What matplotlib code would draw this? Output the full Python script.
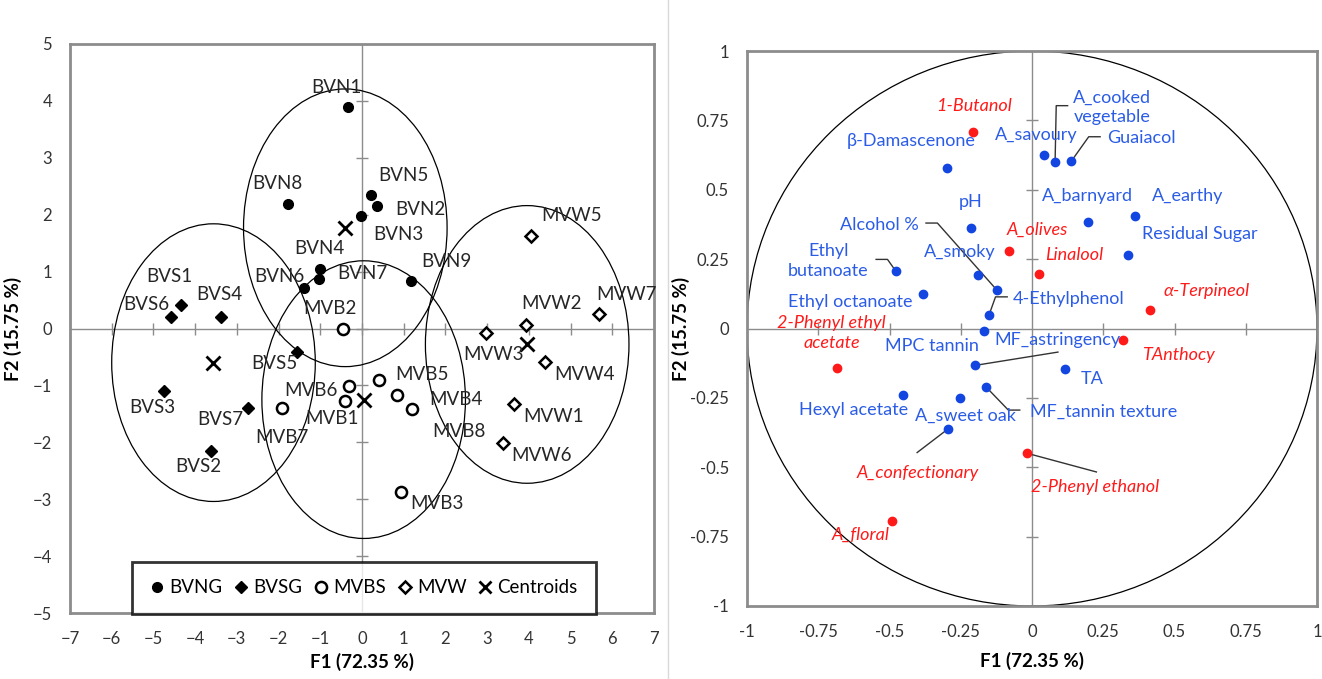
import matplotlib
matplotlib.use("Agg")
import matplotlib.pyplot as plt
from matplotlib.lines import Line2D
from matplotlib.patches import Ellipse, Circle

plt.rcParams['font.family'] = ['Lato', 'DejaVu Sans']

# ---- left panel: observations (F1, F2) ----
bvn_names = ["BVN1", "BVN2", "BVN3", "BVN4", "BVN5", "BVN6", "BVN7", "BVN8", "BVN9"]
bvn_x = [-0.33, 0.37, -0.02, -1.01, 0.22, -1.39, -1.04, -1.78, 1.18]
bvn_y = [3.89, 2.15, 1.97, 1.04, 2.35, 0.72, 0.87, 2.19, 0.83]

bvs_names = ["BVS1", "BVS2", "BVS3", "BVS4", "BVS5", "BVS6", "BVS7"]
bvs_x = [-4.35, -3.61, -4.75, -3.39, -1.57, -4.58, -2.74]
bvs_y = [0.42, -2.15, -1.10, 0.20, -0.41, 0.20, -1.40]

mvb_names = ["MVB1", "MVB2", "MVB3", "MVB4", "MVB5", "MVB6", "MVB7", "MVB8"]
mvb_x = [-0.40, -0.46, 0.94, 0.85, 0.40, -0.31, -1.91, 1.21]
mvb_y = [-1.27, 0.00, -2.87, -1.16, -0.91, -1.01, -1.39, -1.41]

mvw_names = ["MVW1", "MVW2", "MVW3", "MVW4", "MVW5", "MVW6", "MVW7"]
mvw_x = [3.65, 3.92, 2.97, 4.39, 4.05, 3.37, 5.69]
mvw_y = [-1.32, 0.06, -0.08, -0.58, 1.63, -2.01, 0.26]

centroid_x = [-0.40, -3.56, 0.04, 3.96]
centroid_y = [1.77, -0.60, -1.25, -0.28]
conf_radius = 2.44

# label positions (layout only)
obs_label_pos = {
    "BVN1": (-0.62, 4.24), "BVN2": (1.39, 2.10), "BVN3": (0.87, 1.65), "BVN4": (-1.03, 1.40),
    "BVN5": (0.99, 2.69), "BVN6": (-1.99, 0.92), "BVN7": (0.01, 0.97), "BVN8": (-2.04, 2.54),
    "BVN9": (2.02, 1.17),
    "BVS1": (-4.61, 0.92), "BVS2": (-3.92, -2.43), "BVS3": (-5.02, -1.38), "BVS4": (-3.41, 0.59),
    "BVS5": (-2.10, -0.61), "BVS6": (-5.16, 0.42), "BVS7": (-3.39, -1.60),
    "MVB1": (-0.73, -1.58), "MVB2": (-0.77, 0.35), "MVB3": (1.80, -3.08), "MVB4": (2.24, -1.25),
    "MVB5": (1.43, -0.80), "MVB6": (-1.23, -1.09), "MVB7": (-1.92, -1.92), "MVB8": (2.33, -1.81),
    "MVW1": (4.60, -1.54), "MVW2": (4.54, 0.44), "MVW3": (3.16, -0.46), "MVW4": (5.34, -0.80),
    "MVW5": (5.02, 1.99), "MVW6": (4.31, -2.23), "MVW7": (6.35, 0.59),
}

# ---- right panel: variables (correlation circle) ----
blue_names = ["β-Damascenone", "A_savoury", "A_cooked\nvegetable", "Guaiacol", "pH", "A_barnyard",
              "A_earthy", "Residual Sugar", "Ethyl\nbutanoate", "A_smoky", "Alcohol %",
              "Ethyl octanoate", "4-Ethylphenol", "MPC tannin", "MF_astringency", "TA",
              "Hexyl acetate", "A_sweet oak", "MF_tannin texture", "A_confectionary"]
blue_x = [-0.298, 0.043, 0.081, 0.138, -0.214, 0.196, 0.360, 0.337, -0.478, -0.191, -0.122,
          -0.383, -0.151, -0.170, -0.200, 0.116, -0.452, -0.254, -0.160, -0.296]
blue_y = [0.580, 0.626, 0.599, 0.603, 0.363, 0.382, 0.405, 0.266, 0.207, 0.192, 0.137,
          0.123, 0.048, -0.010, -0.133, -0.147, -0.241, -0.249, -0.212, -0.363]

red_names = ["1-Butanol", "A_olives", "Linalool", "α-Terpineol", "TAnthocy",
             "2-Phenyl ethyl\nacetate", "2-Phenyl ethanol", "A_floral"]
red_x = [-0.207, -0.079, 0.024, 0.415, 0.320, -0.684, -0.016, -0.490]
red_y = [0.707, 0.278, 0.198, 0.065, -0.040, -0.141, -0.450, -0.693]

# label text positions (layout only): name -> (x, y, ha)
var_label_pos = {
    "β-Damascenone": (-0.423, 0.675, "center"), "A_savoury": (0.015, 0.697, "center"),
    "A_cooked\nvegetable": (0.145, 0.797, "left"), "Guaiacol": (0.263, 0.685, "left"),
    "pH": (-0.214, 0.457, "center"), "A_barnyard": (0.196, 0.477, "center"),
    "A_earthy": (0.546, 0.477, "center"), "Residual Sugar": (0.589, 0.340, "center"),
    "Ethyl\nbutanoate": (-0.715, 0.242, "center"), "A_smoky": (-0.255, 0.274, "center"),
    "Alcohol %": (-0.536, 0.373, "center"), "Ethyl octanoate": (-0.638, 0.094, "center"),
    "4-Ethylphenol": (-0.066, 0.108, "left"), "MPC tannin": (-0.352, -0.064, "center"),
    "MF_astringency": (0.089, -0.040, "center"), "TA": (0.212, -0.183, "center"),
    "Hexyl acetate": (-0.625, -0.294, "center"), "A_sweet oak": (-0.234, -0.315, "center"),
    "MF_tannin texture": (0.253, -0.300, "center"), "A_confectionary": (-0.402, -0.522, "center"),
    "1-Butanol": (-0.204, 0.802, "center"), "A_olives": (0.017, 0.357, "center"),
    "Linalool": (0.149, 0.264, "center"), "α-Terpineol": (0.613, 0.136, "center"),
    "TAnthocy": (0.515, -0.097, "center"), "2-Phenyl ethyl\nacetate": (-0.704, -0.017, "center"),
    "2-Phenyl ethanol": (0.223, -0.571, "center"), "A_floral": (-0.600, -0.745, "center"),
}
# leader line waypoints after the point (layout only)
leaders = {
    "A_cooked\nvegetable": [(0.085, 0.803), (0.125, 0.803)],
    "Guaiacol": [(0.199, 0.691), (0.239, 0.691)],
    "Alcohol %": [(-0.332, 0.380), (-0.372, 0.380)],
    "Ethyl\nbutanoate": [(-0.507, 0.249), (-0.547, 0.249)],
    "4-Ethylphenol": [(-0.128, 0.114), (-0.087, 0.114)],
    "MF_astringency": [(0.091, -0.085)],
    "MF_tannin texture": [(-0.083, -0.294), (-0.043, -0.294)],
    "A_confectionary": [(-0.403, -0.447)],
    "2-Phenyl ethanol": [(0.226, -0.517)],
}

BLUE = "#1346e0"
BLUE_TXT = "#2b5ce6"
RED = "#ff1a1a"
FRAME = "#8c8c8c"

fig = plt.figure(figsize=(13.22, 6.79), dpi=100)
fig.add_artist(Line2D([668 / 1322] * 2, [0, 1], color="#d9d9d9", lw=1))

# ================= left panel =================
ax = fig.add_axes([70 / 1322, 1 - 613 / 679, 584 / 1322, 569 / 679])
ax.set_xlim(-7, 7)
ax.set_ylim(-5, 5)
for s in ax.spines.values():
    s.set_color(FRAME)
    s.set_linewidth(2)
ax.axhline(0, color=FRAME, lw=1, zorder=1)
ax.axvline(0, color=FRAME, lw=1, zorder=1)
ax.plot(range(-6, 7), [0] * 13, ls="none", marker="|", ms=8, mew=1, color=FRAME, zorder=1)
ax.plot([0] * 9, range(-4, 5), ls="none", marker="_", ms=8, mew=1, color=FRAME, zorder=1)
ax.set_xticks(range(-7, 8))
ax.set_yticks(range(-5, 6))
ax.tick_params(length=0, labelsize=12, pad=13, colors="#333333")
ax.set_xlabel("F1 (72.35 %)", fontsize=13.5, fontweight="bold")
ax.set_ylabel("F2 (15.75 %)", fontsize=13.5, fontweight="bold")
ax.xaxis.set_label_coords(0.5, -0.07)
ax.yaxis.set_label_coords(-0.082, 0.5)

for cx, cy in zip(centroid_x, centroid_y):
    ax.add_patch(Ellipse((cx, cy), 2 * conf_radius, 2 * conf_radius, fill=False,
                         ec="black", lw=0.9, zorder=2))

ax.plot(bvn_x, bvn_y, ls="none", marker="o", ms=7, color="black", zorder=3)
ax.plot(bvs_x, bvs_y, ls="none", marker="D", ms=6, color="black", zorder=3)
ax.plot(mvb_x, mvb_y, ls="none", marker="o", ms=8, mfc="white", mec="black", mew=1.8, zorder=3)
ax.plot(mvw_x, mvw_y, ls="none", marker="D", ms=6.5, mfc="white", mec="black", mew=1.8, zorder=3)
ax.plot(centroid_x, centroid_y, ls="none", marker="x", ms=10, mew=2, color="black", zorder=3)

for names in (bvn_names, bvs_names, mvb_names, mvw_names):
    for n in names:
        lx, ly = obs_label_pos[n]
        ax.text(lx, ly, n, fontsize=13.5, color="#262626", ha="center", va="center", zorder=4)

handles = [
    Line2D([], [], ls="none", marker="o", ms=7, color="black"),
    Line2D([], [], ls="none", marker="D", ms=6, color="black"),
    Line2D([], [], ls="none", marker="o", ms=8, mfc="white", mec="black", mew=1.8),
    Line2D([], [], ls="none", marker="D", ms=6.5, mfc="white", mec="black", mew=1.8),
    Line2D([], [], ls="none", marker="x", ms=9, mew=2, color="black"),
]
leg = ax.legend(handles, ["BVNG", "BVSG", "MVBS", "MVW", "Centroids"], ncol=5,
                loc="lower center", bbox_to_anchor=(0.503, -0.002),
                fontsize=13.5, frameon=True, fancybox=False, handlelength=0.8,
                handletextpad=0.25, columnspacing=0.6, borderpad=0.95, borderaxespad=0)
leg.get_frame().set_edgecolor("black")
leg.get_frame().set_linewidth(2)
leg.set_zorder(5)

# ================= right panel =================
ax2 = fig.add_axes([747 / 1322, 1 - 606 / 679, 570 / 1322, 555 / 679])
ax2.set_xlim(-1, 1)
ax2.set_ylim(-1, 1)
for s in ax2.spines.values():
    s.set_color(FRAME)
    s.set_linewidth(2)
ax2.axhline(0, color=FRAME, lw=1, zorder=1)
ax2.axvline(0, color=FRAME, lw=1, zorder=1)
tk = [-0.75, -0.5, -0.25, 0.25, 0.5, 0.75]
ax2.plot(tk, [0] * 6, ls="none", marker="|", ms=8, mew=1, color=FRAME, zorder=1)
ax2.plot([0] * 6, tk, ls="none", marker="_", ms=8, mew=1, color=FRAME, zorder=1)
ax2.add_patch(Circle((0, 0), 1, fill=False, ec="black", lw=0.9, zorder=2))
ticks = [-1, -0.75, -0.5, -0.25, 0, 0.25, 0.5, 0.75, 1]
tick_labels = ["-1", "-0.75", "-0.5", "-0.25", "0", "0.25", "0.5", "0.75", "1"]
ax2.set_xticks(ticks)
ax2.set_yticks(ticks)
ax2.set_xticklabels(tick_labels)
ax2.set_yticklabels(tick_labels)
ax2.tick_params(length=0, labelsize=12, pad=13, colors="#333333")
ax2.set_xlabel("F1 (72.35 %)", fontsize=13.5, fontweight="bold")
ax2.set_ylabel("F2 (15.75 %)", fontsize=13.5, fontweight="bold")
ax2.xaxis.set_label_coords(0.5, -0.083)
ax2.yaxis.set_label_coords(-0.1, 0.5)

ax2.plot(blue_x, blue_y, ls="none", marker="o", ms=6, color=BLUE, zorder=4)
ax2.plot(red_x, red_y, ls="none", marker="o", ms=6, color=RED, zorder=4)

for names, xs, ys in ((blue_names, blue_x, blue_y), (red_names, red_x, red_y)):
    for n, px, py in zip(names, xs, ys):
        if n in leaders:
            pts = [(px, py)] + leaders[n]
            ax2.plot([p[0] for p in pts], [p[1] for p in pts], color="#333333", lw=1, zorder=3)
        lx, ly, ha = var_label_pos[n]
        italic = names is red_names or n == "A_confectionary"
        ax2.text(lx, ly, n, fontsize=13, ha=ha, va="center", linespacing=1.3,
                 color=RED if italic else BLUE_TXT, style="italic" if italic else "normal",
                 zorder=5)

fig.savefig("out.png", dpi=100)
